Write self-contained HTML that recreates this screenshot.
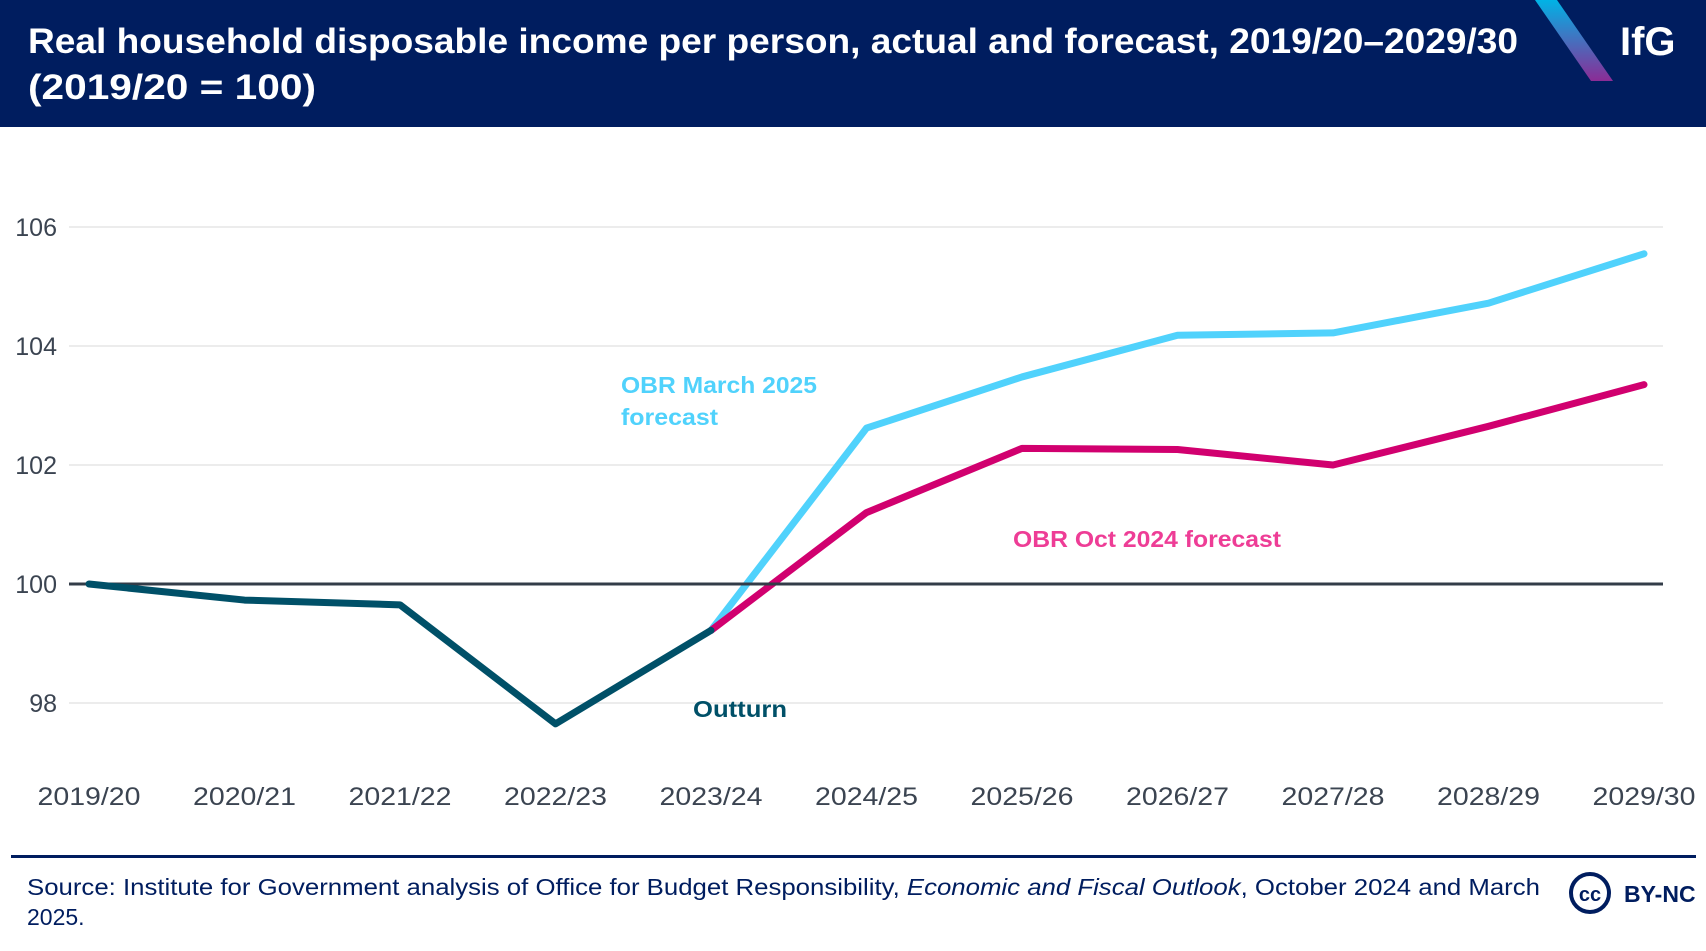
<!DOCTYPE html>
<html><head><meta charset="utf-8"><style>
body{margin:0;width:1706px;height:946px;background:#fff;overflow:hidden;font-family:"Liberation Sans",sans-serif}
</style></head><body>
<svg width="1706" height="946" xmlns="http://www.w3.org/2000/svg">
<defs><linearGradient id="g" x1="0" y1="0" x2="0" y2="1"><stop offset="0" stop-color="#00b3e6"/><stop offset="1" stop-color="#8b2c96"/></linearGradient></defs>
<rect x="0" y="0" width="1706" height="127" fill="#001d5f"/>
<text x="28" y="53" fill="#fff" font-size="35" font-weight="bold" textLength="1490" lengthAdjust="spacingAndGlyphs">Real household disposable income per person, actual and forecast, 2019/20–2029/30</text>
<text x="28" y="99" fill="#fff" font-size="35" font-weight="bold" textLength="288" lengthAdjust="spacingAndGlyphs">(2019/20 = 100)</text>
<polygon points="1535,0 1557,0 1613,81 1591,81" fill="url(#g)"/>
<text x="1620" y="55" fill="#fff" font-size="40" font-weight="bold">IfG</text>
<g id="grid"></g><g id="series"></g>
<text x="621" y="393" fill="#50d2fc" font-size="23" font-weight="bold" textLength="196" lengthAdjust="spacingAndGlyphs">OBR March 2025</text>
<text x="621" y="425" fill="#50d2fc" font-size="23" font-weight="bold" textLength="97" lengthAdjust="spacingAndGlyphs">forecast</text>
<text x="1013" y="547" fill="#ee3d96" font-size="23" font-weight="bold" textLength="268" lengthAdjust="spacingAndGlyphs">OBR Oct 2024 forecast</text>
<text x="693" y="717" fill="#005068" font-size="23" font-weight="bold" textLength="94" lengthAdjust="spacingAndGlyphs">Outturn</text>
<rect x="11" y="855" width="1685" height="3" fill="#001d5f"/>
<text x="27" y="895" fill="#001d5f" font-size="23" textLength="1513" lengthAdjust="spacingAndGlyphs">Source: Institute for Government analysis of Office for Budget Responsibility, <tspan font-style="italic">Economic and Fiscal Outlook</tspan>, October 2024 and March</text>
<text x="27" y="925" fill="#001d5f" font-size="23">2025.</text>
<circle cx="1590" cy="893" r="19" fill="none" stroke="#001d5f" stroke-width="4"/>
<text x="1590" y="901" fill="#001d5f" font-size="20" font-weight="bold" text-anchor="middle">cc</text>
<text x="1624" y="902" fill="#001d5f" font-size="23" font-weight="bold">BY-NC</text>
</svg>
<script>
const categories=["2019/20","2020/21","2021/22","2022/23","2023/24","2024/25","2025/26","2026/27","2027/28","2028/29","2029/30"];
const outturn=[100,99.73,99.65,97.65,99.22,null,null,null,null,null,null];
const march2025=[null,null,null,null,99.22,102.62,103.48,104.18,104.22,104.72,105.55];
const oct2024=[null,null,null,null,99.22,101.2,102.28,102.26,102.0,102.65,103.35];
const yTicks=[98,100,102,104,106];
const NS="http://www.w3.org/2000/svg";
const x=i=>89+i*155.5;
const y=v=>584-(v-100)*59.5;
const grid=document.getElementById('grid'),ser=document.getElementById('series');
function mk(tag,attrs,parent){const e=document.createElementNS(NS,tag);for(const k in attrs)e.setAttribute(k,attrs[k]);parent.appendChild(e);return e;}
yTicks.forEach(t=>{
  if(t!==100){const l=mk('line',{x1:69,x2:1663,y1:y(t),y2:y(t),stroke:'#ececec','stroke-width':2},grid);
  
  }
  const tx=mk('text',{x:57,y:y(t)+9,'text-anchor':'end','font-size':25,fill:'#3b4451'},grid);
  tx.textContent=t;
  
  
});
categories.forEach((c,i)=>{
  const tx=mk('text',{x:x(i),y:805,'text-anchor':'middle','font-size':25,fill:'#3b4451',textLength:103,lengthAdjust:'spacingAndGlyphs'},grid);
  tx.textContent=c;
  
  
});
function line(vals,color,name){
  const pts=[];vals.forEach((v,i)=>{if(v!==null)pts.push(x(i)+','+y(v));});
  const p=mk('polyline',{points:pts.join(' '),fill:'none',stroke:color,'stroke-width':7,'stroke-linejoin':'round','stroke-linecap':'round'},ser);
  
  
}
line(march2025,'#50d2fc','march-2025-line');
line(oct2024,'#d1006f','oct-2024-line');
const z=mk('line',{x1:69,x2:1663,y1:y(100),y2:y(100),stroke:'#333c48','stroke-width':3},ser);


line(outturn,'#005068','outturn-line');
</script>
</body></html>
